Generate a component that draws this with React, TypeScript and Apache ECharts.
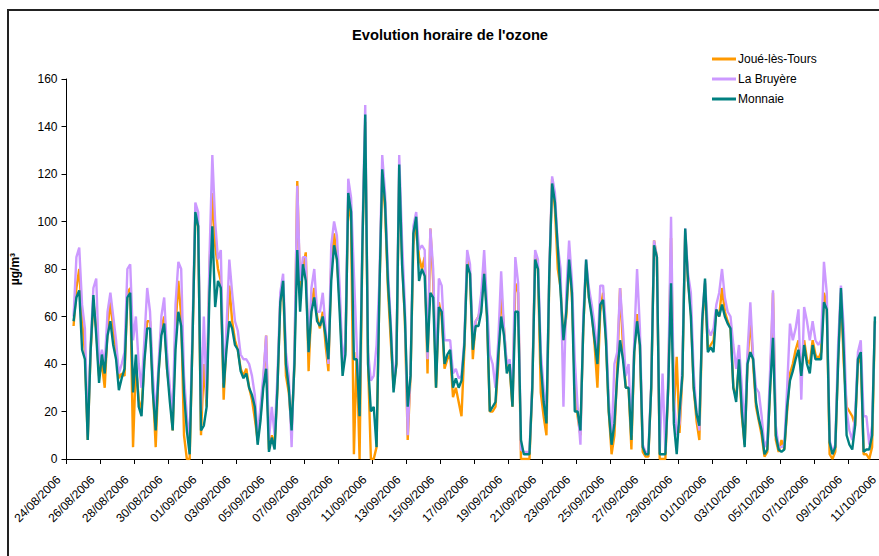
import React, { useEffect, useRef } from "react";
import * as echarts from "echarts";

// Hourly category axis: 24/08/2006 00:00 .. 11/10/2006 00:00
const START_DATE = [2006, 7, 24];
const HOURS = 1153;
const SAMPLE_START_HOUR = 10;
const SAMPLE_STEP_HOURS = 4;
const LABEL_EVERY_HOURS = 48;

const seriesNames = ["Joué-lès-Tours", "La Bruyère", "Monnaie"];
const seriesColors = ["#FF9900", "#CC99FF", "#008080"];

// µg/m3 values sampled every 4 hours
const joueLesTours = [
  56, 72, 80, 58, 45, 8, 45, 66, 55, 35,
  40, 30, 55, 66, 55, 45, 34, 36, 35, 70,
  72, 5, 40, 25, 20, 42, 58, 58, 30, 5,
  36, 55, 60, 38, 28, 12, 55, 75, 60, 10,
  0, 0, 50, 103, 98, 10, 40, 22, 80, 112,
  90, 80, 75, 25, 50, 73, 58, 50, 46, 38,
  35, 38, 30, 25, 17, 8, 18, 32, 52, 4,
  10, 6, 30, 66, 74, 35, 28, 12, 40, 117,
  70, 80, 87, 37, 65, 72, 60, 55, 62, 48,
  37, 82, 95, 84, 66, 38, 46, 110, 100, 2,
  45, 0, 90, 142, 40, 0, 0, 5, 70, 120,
  105, 72, 50, 30, 40, 120, 85, 58, 8, 35,
  90, 100, 85, 80, 85, 36, 97, 75, 30, 66,
  60, 38, 42, 44, 26, 30, 24, 18, 46, 85,
  78, 42, 58, 60, 65, 82, 60, 20, 20, 22,
  40, 70, 55, 38, 38, 22, 74, 70, 0, 0,
  0, 0, 30, 86, 80, 28, 18, 10, 76, 118,
  105, 80, 72, 50, 60, 84, 68, 32, 18, 10,
  55, 82, 68, 62, 48, 30, 62, 70, 50, 20,
  2, 10, 38, 72, 48, 30, 30, 4, 45, 61,
  48, 3, 1, 1, 30, 92, 85, 0, 0, 0,
  30, 93, 20, 43, 11, 35, 95, 75, 62, 30,
  16, 8, 56, 74, 46, 48, 50, 62, 60, 72,
  62, 58, 55, 30, 26, 40, 18, 6, 40, 60,
  40, 22, 16, 10, 1, 3, 30, 70, 8, 3,
  8, 4, 20, 36, 40, 46, 50, 36, 50, 42,
  40, 50, 44, 42, 45, 70, 65, 2, 0, 3,
  42, 70, 40, 22, 20, 18, 14, 40, 44, 2,
  2, 0, 5, 58,
];

const laBruyere = [
  60, 85, 89, 65, 55, 10, 48, 72, 76, 40,
  46, 40, 62, 70, 60, 50, 36, 40, 45, 80,
  82, 50, 60, 40, 30, 50, 72, 62, 35, 18,
  40, 60, 68, 45, 30, 18, 65, 83, 80, 35,
  18, 8, 55, 108, 104, 20, 60, 25, 85, 128,
  100, 84, 88, 32, 55, 84, 70, 58, 54, 44,
  42, 42, 40, 35, 27, 10, 22, 35, 52, 8,
  22, 10, 35, 70, 78, 45, 35, 5, 45, 115,
  75, 85, 85, 45, 72, 80, 62, 62, 70, 55,
  40, 90, 100, 94, 72, 40, 50, 118, 110, 78,
  48, 20, 95, 149, 45, 33, 35, 48, 75, 128,
  112, 80, 58, 32, 42, 128, 92, 65, 10, 38,
  98, 104, 88, 90, 88, 42, 97, 80, 36, 76,
  73, 50, 50, 50, 36, 38, 34, 35, 50, 88,
  82, 50, 58, 60, 70, 88, 65, 44, 40, 30,
  50, 79, 55, 40, 42, 26, 85, 74, 4, 3,
  3, 3, 32, 88, 84, 45, 30, 18, 80, 119,
  112, 90, 80, 22, 70, 92, 75, 42, 22, 6,
  60, 84, 72, 65, 56, 44, 73, 73, 55, 25,
  8, 40, 45, 72, 55, 35, 40, 10, 50, 80,
  55, 6, 3, 3, 32, 92, 85, 3, 36, 3,
  35, 102, 25, 10, 15, 40, 97, 78, 70, 36,
  20, 12, 60, 75, 55, 52, 55, 65, 70, 80,
  68, 62, 60, 48, 38, 48, 30, 12, 45, 66,
  43, 30, 28, 18, 5, 8, 38, 71, 14, 5,
  5, 6, 30, 57, 50, 55, 63, 25, 64, 58,
  50, 58, 50, 48, 50, 83, 70, 8, 3, 6,
  48, 73, 55, 20, 12, 8, 18, 45, 50, 18,
  18, 6, 14, 58,
];

const monnaie = [
  58, 68, 71, 46, 42, 8, 45, 69, 52, 32,
  44, 36, 52, 58, 48, 42, 29, 34, 38, 68,
  70, 28, 44, 22, 18, 41, 55, 55, 28, 12,
  36, 52, 57, 38, 24, 12, 46, 62, 56, 28,
  12, 2, 50, 104, 98, 12, 14, 22, 70, 98,
  64, 75, 72, 30, 46, 58, 55, 48, 46, 37,
  34, 36, 30, 27, 22, 6, 16, 30, 38, 3,
  9, 4, 30, 66, 75, 40, 30, 12, 40, 88,
  62, 82, 75, 45, 62, 68, 58, 56, 60, 52,
  42, 75, 90, 84, 61, 35, 44, 112, 104, 42,
  42, 18, 90, 145, 40, 20, 22, 5, 70, 122,
  108, 75, 55, 28, 40, 124, 82, 60, 22, 35,
  95, 102, 75, 80, 77, 45, 70, 68, 30, 64,
  62, 40, 44, 46, 30, 34, 30, 33, 48, 82,
  78, 46, 56, 56, 62, 78, 60, 20, 22, 24,
  44, 60, 52, 36, 40, 22, 62, 62, 8, 2,
  2, 2, 30, 84, 80, 40, 24, 15, 78, 116,
  108, 89, 70, 50, 62, 84, 70, 20, 20, 12,
  55, 84, 68, 60, 50, 40, 65, 67, 50, 20,
  6, 15, 35, 50, 42, 30, 30, 8, 45, 58,
  48, 5, 2, 2, 30, 90, 85, 2, 2, 2,
  30, 74, 15, 2, 20, 35, 97, 75, 60, 30,
  19, 14, 58, 76, 45, 47, 45, 63, 60, 65,
  60, 57, 55, 30, 24, 42, 20, 5, 40, 45,
  42, 24, 17, 12, 2, 4, 30, 51, 10, 4,
  3, 4, 22, 33, 37, 42, 46, 35, 48, 40,
  36, 48, 42, 42, 42, 66, 63, 7, 2, 5,
  40, 72, 45, 10, 6, 4, 14, 42, 45, 3,
  4, 4, 10, 60,
];

const yTicks = { min: 0, max: 160, interval: 20 };

function pad(n: number) {
  return n < 10 ? "0" + n : "" + n;
}

function buildCategories(): string[] {
  const out: string[] = [];
  for (let h = 0; h < HOURS; h++) {
    const d = new Date(START_DATE[0], START_DATE[1], START_DATE[2] + Math.floor(h / 24));
    out.push(pad(d.getDate()) + "/" + pad(d.getMonth() + 1) + "/" + d.getFullYear());
  }
  return out;
}

function toPairs(values: number[]) {
  return values.map((v, i) => [SAMPLE_START_HOUR + i * SAMPLE_STEP_HOURS, v]);
}

const FONT = "'Liberation Sans', Arial, sans-serif";

export default function App() {
  const ref = useRef<HTMLDivElement>(null);

  useEffect(() => {
    if (!ref.current) return;
    const chart = echarts.init(ref.current, undefined, { renderer: "svg" });
    const all = [joueLesTours, laBruyere, monnaie];
    chart.setOption({
      animation: false,
      backgroundColor: "#ffffff",
      textStyle: { fontFamily: FONT, color: "#000" },
      title: {
        text: "Evolution horaire de l'ozone",
        left: 445,
        textAlign: "center",
        top: 22,
        textStyle: { fontFamily: FONT, fontSize: 14.7, fontWeight: "bold", color: "#000" },
      },
      legend: {
        orient: "vertical",
        left: 707,
        top: 48,
        icon: "rect",
        itemWidth: 24,
        itemHeight: 3,
        itemGap: 8,
        textStyle: { fontFamily: FONT, fontSize: 12, color: "#000", padding: [0, 0, 0, -3] },
        data: seriesNames,
      },
      graphic: [
        {
          type: "rect",
          shape: { x: 8, y: 10, width: 1000, height: 1000 },
          style: { fill: "none", stroke: "#222", lineWidth: 2 },
          silent: true,
        },
      ],
      grid: { left: 66.5, right: 18, top: 79, bottom: 97, containLabel: false },
      xAxis: {
        type: "category",
        boundaryGap: false,
        data: buildCategories(),
        axisLine: { lineStyle: { color: "#000", width: 1 } },
        axisTick: { interval: LABEL_EVERY_HOURS - 1, length: 5, lineStyle: { color: "#000" } },
        axisLabel: {
          interval: LABEL_EVERY_HOURS - 1,
          rotate: 45,
          margin: 11,
          padding: [0, 11, 0, 0],
          fontFamily: FONT,
          fontSize: 12,
          color: "#000",
        },
        splitLine: { show: false },
      },
      yAxis: {
        type: "value",
        min: yTicks.min,
        max: yTicks.max,
        interval: yTicks.interval,
        name: "µg/m³",
        nameLocation: "middle",
        nameGap: 46,
        nameTextStyle: { fontFamily: FONT, fontSize: 12, fontWeight: "bold", color: "#000" },
        axisLine: { show: true, lineStyle: { color: "#000", width: 1 } },
        axisTick: { show: true, length: 5, lineStyle: { color: "#000" } },
        axisLabel: { fontFamily: FONT, fontSize: 12, color: "#000", margin: 9 },
        splitLine: { show: false },
      },
      series: all.map((vals, i) => ({
        name: seriesNames[i],
        type: "line",
        data: toPairs(vals),
        showSymbol: false,
        symbol: "none",
        lineStyle: { color: seriesColors[i], width: 2.4 },
        itemStyle: { color: seriesColors[i] },
        z: 2 + i,
      })),
    });
    return () => chart.dispose();
  }, []);

  return (
    <div
      style={{
        position: "absolute",
        left: 0,
        top: 0,
        width: 879,
        height: 556,
        overflow: "hidden",
        background: "#fff",
      }}
    >
      <div ref={ref} style={{ width: 900, height: 556 }} />
    </div>
  );
}
